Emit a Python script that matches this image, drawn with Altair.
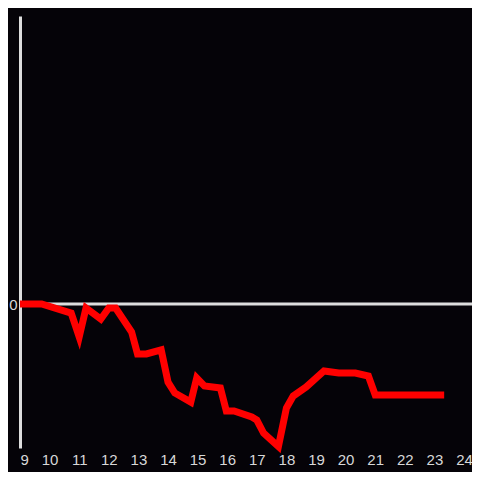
import altair as alt
import pandas as pd

hours = [9.0, 9.73, 10.73, 11.0, 11.23, 11.73, 12.0, 12.23, 12.77, 12.97, 13.27, 13.77,
         14.0, 14.23, 14.77, 14.97, 15.23, 15.77, 15.97, 16.23, 16.83, 17.0, 17.23, 17.73,
         18.0, 18.23, 18.67, 19.27, 19.77, 20.33, 20.77, 21.0, 23.33]
values = [0.0, 0.0, -0.063, -0.229, -0.028, -0.104, -0.028, -0.028, -0.194, -0.347, -0.347, -0.319,
          -0.542, -0.618, -0.681, -0.514, -0.569, -0.583, -0.743, -0.743, -0.785, -0.806, -0.896, -0.99,
          -0.722, -0.639, -0.576, -0.465, -0.479, -0.479, -0.5, -0.632, -0.632]
x_ticks = list(range(9, 25))

df = pd.DataFrame({"hour": hours, "value": values})

xs = alt.Scale(domain=[9, 24.27], nice=False, zero=False)
ys = alt.Scale(domain=[-1, 2], nice=False, zero=False)

line = alt.Chart(df).mark_line(color="#ff0000", strokeWidth=7, strokeJoin="miter", strokeCap="butt").encode(
    x=alt.X("hour:Q", scale=xs, axis=alt.Axis(values=x_ticks, domain=False, ticks=False, grid=False,
                                              labelColor="#d8d8d8", labelFontSize=15, labelPadding=4,
                                              labelOverlap=False, labelBound=False,
                                              labelFont="Liberation Sans", title=None)),
    y=alt.Y("value:Q", scale=ys, axis=alt.Axis(values=[0], format="d", domain=True, domainColor="#dddddd",
                                               domainWidth=3, ticks=False, grid=False, labelColor="#d8d8d8",
                                               labelFontSize=15, labelPadding=3,
                                               labelFont="Liberation Sans", title=None)),
)

zero = alt.Chart(pd.DataFrame({"z": [0]})).mark_rule(color="#dddddd", strokeWidth=3).encode(
    y=alt.Y("z:Q", scale=ys),
    x=alt.value(0),
    x2=alt.value(452),
)

chart = alt.layer(zero, line).properties(
    width=452, height=432,
    background="#050308",
    padding={"left": 12, "top": 8, "right": 0, "bottom": 24},
    autosize=alt.AutoSizeParams(type="none"),
).configure_view(stroke=None)

chart.save("out.html", embed_options={"renderer": "svg", "actions": False})
